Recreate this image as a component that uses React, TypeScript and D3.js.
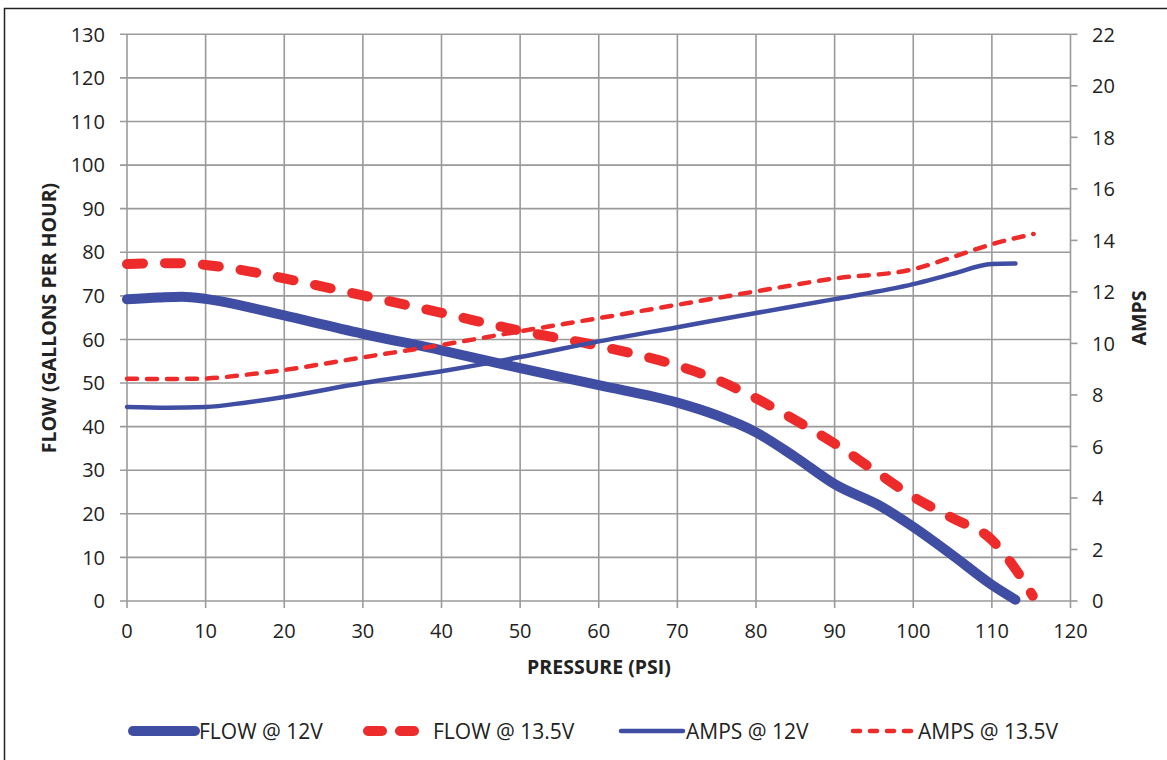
import React from "react";
import * as d3 from "d3";

const flow12X = [0, 4, 7, 10, 15, 20, 30, 40, 50, 60, 70, 75, 80, 85, 90, 96, 100, 105, 110, 113];
const flow12Y = [69.2, 69.6, 69.8, 69.3, 67.6, 65.5, 61.3, 57.5, 53.4, 49.5, 45.5, 42.6, 38.7, 33, 26.8, 21.6, 17, 10.5, 3.7, 0.3];

const flow135X = [0, 4, 7, 10, 15, 20, 30, 40, 50, 60, 70, 75, 80, 85, 90, 95, 100, 105, 110, 112.5, 115.2];
const flow135Y = [77.3, 77.5, 77.5, 77.1, 75.8, 74, 70.1, 66.1, 62, 58.5, 54, 50.8, 46.5, 41.5, 36.1, 30, 23.9, 19, 14, 8.6, 1.2];

const amps12X = [0, 5, 10, 15, 20, 30, 40, 50, 60, 70, 80, 90, 100, 105, 110, 113];
const amps12Y = [7.53, 7.5, 7.53, 7.7, 7.92, 8.46, 8.92, 9.47, 10.08, 10.63, 11.18, 11.72, 12.3, 12.7, 13.08, 13.1];

const amps135X = [0, 5, 10, 15, 20, 30, 40, 50, 60, 70, 80, 90, 100, 105, 110, 115.3];
const amps135Y = [8.63, 8.62, 8.64, 8.78, 8.97, 9.46, 9.94, 10.47, 10.98, 11.5, 12.02, 12.52, 12.88, 13.35, 13.85, 14.25];

const xTicks = [0, 10, 20, 30, 40, 50, 60, 70, 80, 90, 100, 110, 120];
const leftTicks = [0, 10, 20, 30, 40, 50, 60, 70, 80, 90, 100, 110, 120, 130];
const rightTicks = [0, 2, 4, 6, 8, 10, 12, 14, 16, 18, 20, 22];

const legendLabels = ["FLOW @ 12V", "FLOW @ 13.5V", "AMPS @ 12V", "AMPS @ 13.5V"];

const BLUE = "#3F4EA3";
const RED = "#EE2B2B";
const GRID = "#9A9A9A";
const FONT = "'Open Sans', sans-serif";

export default function App() {
  const W = 1167, H = 760;
  const x = d3.scaleLinear().domain([0, 120]).range([127, 1070.5]);
  const yL = d3.scaleLinear().domain([0, 130]).range([601, 34.3]);
  const yR = d3.scaleLinear().domain([0, 22]).range([601, 34.3]);

  const mk = (xs: number[], ys: number[], sc: d3.ScaleLinear<number, number>) =>
    d3.line<number>().x((_, i) => x(xs[i])).y((v) => sc(v)).curve(d3.curveMonotoneX)(ys) || "";

  const series = [
    { d: mk(flow12X, flow12Y, yL), color: BLUE, w: 10, dash: undefined, cap: "round" },
    { d: mk(flow135X, flow135Y, yL), color: RED, w: 10, dash: "16 22", cap: "round" },
    { d: mk(amps12X, amps12Y, yR), color: BLUE, w: 4.5, dash: undefined, cap: "round" },
    { d: mk(amps135X, amps135Y, yR), color: RED, w: 4.5, dash: "10 10", cap: "round" },
  ];

  const legendPos = [
    { x1: 133, x2: 195, tx: 199 },
    { x1: 368, x2: 428, tx: 433 },
    { x1: 621, x2: 683, tx: 686 },
    { x1: 853, x2: 912, tx: 918 },
  ];
  const legendDash = [undefined, "14 18", undefined, "7 10"];

  return (
    <svg width={W} height={H} style={{ position: "absolute", left: 0, top: 0, background: "#fff" }} fontFamily={FONT}>
      <rect x={0} y={0} width={W} height={H} fill="#fff" />
      <line x1={4.5} y1={8} x2={4.5} y2={H} stroke="#222" strokeWidth={1.5} />
      <line x1={4} y1={8.5} x2={W} y2={8.5} stroke="#222" strokeWidth={1.5} />

      {/* grid */}
      {xTicks.map((t) => (
        <line key={"gx" + t} x1={x(t)} x2={x(t)} y1={yL(130)} y2={yL(0) + 7} stroke={GRID} strokeWidth={1.6} />
      ))}
      {leftTicks.map((t) => (
        <line key={"gy" + t} x1={x(0) - 7} x2={x(120)} y1={yL(t)} y2={yL(t)} stroke={GRID} strokeWidth={1.6} />
      ))}
      {rightTicks.map((t) => (
        <line key={"rt" + t} x1={x(120)} x2={x(120) + 7} y1={yR(t)} y2={yR(t)} stroke={GRID} strokeWidth={1.6} />
      ))}

      {/* tick labels */}
      {leftTicks.map((t) => (
        <text key={"lt" + t} x={105} y={yL(t)} dy="0.36em" textAnchor="end" fontSize={20} fill="#222">{t}</text>
      ))}
      {rightTicks.map((t) => (
        <text key={"rl" + t} x={1092} y={yR(t)} dy="0.36em" textAnchor="start" fontSize={20} fill="#222">{t}</text>
      ))}
      {xTicks.map((t) => (
        <text key={"xt" + t} x={x(t)} y={631} dy="0.36em" textAnchor="middle" fontSize={20} fill="#222">{t}</text>
      ))}

      {/* axis titles */}
      <text x={599} y={667} dy="0.36em" textAnchor="middle" fontSize={19.5} fontWeight="bold" fill="#222">PRESSURE (PSI)</text>
      <text transform="translate(49,318) rotate(-90)" dy="0.36em" textAnchor="middle" fontSize={19.5} fontWeight="bold" fill="#222">FLOW (GALLONS PER HOUR)</text>
      <text transform="translate(1139,318) rotate(-90)" dy="0.36em" textAnchor="middle" fontSize={19.5} fontWeight="bold" fill="#222">AMPS</text>

      {/* series */}
      {series.map((s, i) => (
        <path key={"s" + i} d={s.d} fill="none" stroke={s.color} strokeWidth={s.w} strokeDasharray={s.dash}
          strokeLinecap={s.cap as any} strokeLinejoin="round" />
      ))}

      {/* legend */}
      {legendLabels.map((lab, i) => (
        <g key={"lg" + i}>
          <line x1={legendPos[i].x1} x2={legendPos[i].x2} y1={731} y2={731} stroke={series[i].color}
            strokeWidth={series[i].w} strokeDasharray={legendDash[i]} strokeLinecap="round" />
          <text x={legendPos[i].tx} y={731} dy="0.36em" fontSize={21} fill="#222">{lab}</text>
        </g>
      ))}
    </svg>
  );
}
